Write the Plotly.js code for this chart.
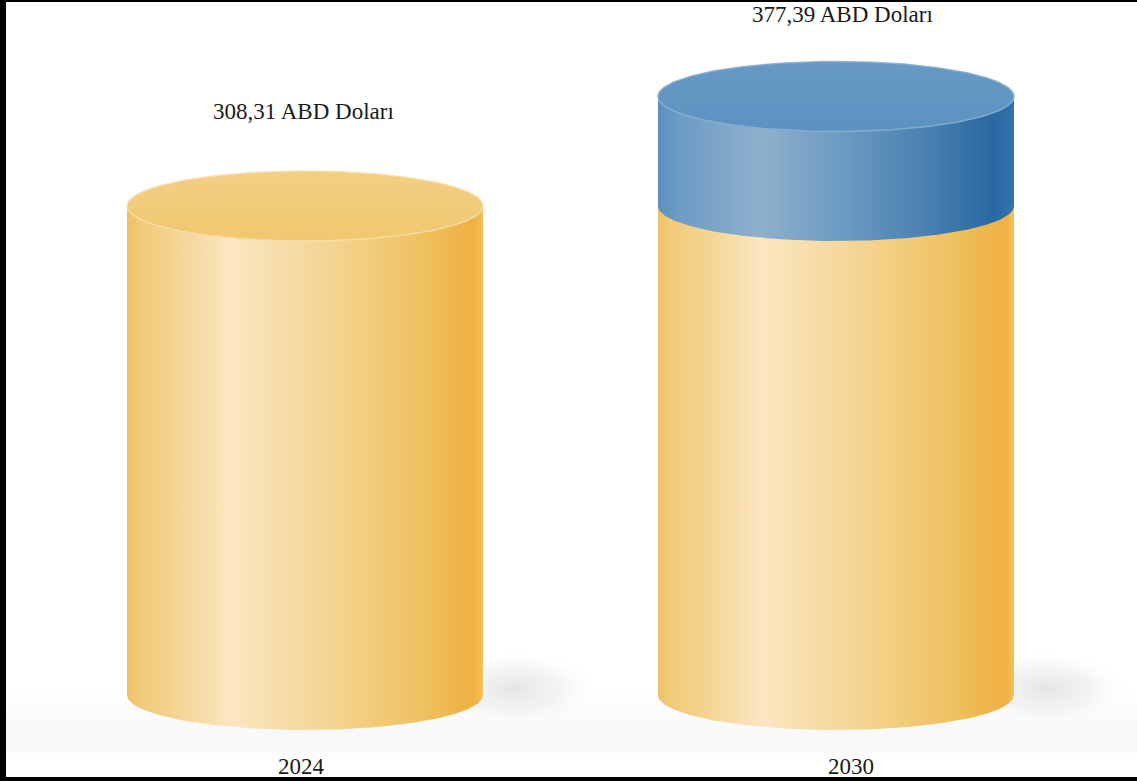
<!DOCTYPE html>
<html><head><meta charset="utf-8">
<script src="https://cdn.plot.ly/plotly-3.0.1.min.js"></script>
<style>html,body{margin:0;padding:0;background:#fff;overflow:hidden;} #chart{width:1137px;height:781px;}</style>
</head><body><div id="chart"></div>
<script>
// ---- data ----
const categories = ['2024', '2030'];
const totalValues = [308.31, 377.39];
const baseValues = [308.31, 308.31];
const valueLabels = ['308,31 ABD Doları', '377,39 ABD Doları'];

// ---- styling / geometry ----
const W = 1137, H = 781;
const pxPerUnitY = 1.586;
const baselinePx = 695;
const yRange = [(baselinePx - H) / pxPerUnitY, baselinePx / pxPerUnitY];
const xRange = [-0.5744, 1.5669];
const pxPerUnitX = W / (xRange[1] - xRange[0]);
const halfW = 178 / pxPerUnitX;
const capB = 35 / pxPerUnitY;
const N = 120;

const yellowSide = [[0,'#f0c066'],[0.04,'#f2cb7c'],[0.12,'#f3d28d'],[0.29,'#fce6c2'],[0.45,'#f6dca6'],[0.62,'#f3d188'],[0.82,'#efc262'],[0.93,'#eeb54a'],[0.975,'#f0b044'],[1,'#f1c15c']];
const blueSide = [[0,'#5a8fc2'],[0.05,'#6c9bc4'],[0.29,'#8fb0cc'],[0.5,'#6e9cc3'],[0.75,'#4b81b1'],[0.94,'#2a68a1'],[1,'#3272aa']];
const segColors = [
  {side: yellowSide, cap: [[0,'#f1c870'],[1,'#f3cf84']], rim: 'rgba(248,222,165,0.9)'},
  {side: blueSide, cap: [[0,'#5c92c0'],[1,'#6899c5']], rim: 'rgba(135,175,210,0.9)'}
];

function bodyTrace(xc, y0, y1, scale) {
  const xs = [xc - halfW, xc + halfW], ys = [y1, y1];
  for (let k = 0; k <= N; k++) {
    const t = 2 * Math.PI - Math.PI * k / N;
    xs.push(xc + halfW * Math.cos(t));
    ys.push(y0 + capB * Math.sin(t));
  }
  return {type:'scatter', mode:'lines', x: xs, y: ys, fill:'toself',
    line:{width:0, color:'rgba(0,0,0,0)'},
    fillgradient:{type:'horizontal', colorscale: scale},
    hoverinfo:'skip', showlegend:false};
}
function capTrace(xc, y, scale, rim) {
  const xs = [], ys = [];
  for (let k = 0; k <= 2 * N; k++) {
    const t = Math.PI * k / N;
    xs.push(xc + halfW * Math.cos(t));
    ys.push(y + capB * Math.sin(t));
  }
  return {type:'scatter', mode:'lines', x: xs, y: ys, fill:'toself',
    line:{width:1.5, color: rim},
    fillgradient:{type:'vertical', colorscale: scale},
    hoverinfo:'skip', showlegend:false};
}
function shadowTrace(xc) {
  const xs = [], ys = [];
  const cx = xc + halfW + 0.06, cy = 4, rx = 0.16, ry = 24;
  for (let k = 0; k <= 2 * N; k++) {
    const t = Math.PI * k / N;
    xs.push(cx + rx * Math.cos(t));
    ys.push(cy + ry * Math.sin(t));
  }
  return {type:'scatter', mode:'lines', x: xs, y: ys, fill:'toself',
    line:{width:0, color:'rgba(0,0,0,0)'},
    fillgradient:{type:'radial', colorscale:[[0,'rgba(212,212,214,0.6)'],[0.55,'rgba(228,228,230,0.4)'],[1,'rgba(255,255,255,0)']]},
    hoverinfo:'skip', showlegend:false};
}

const traces = [];
// floor
traces.push({type:'scatter', mode:'lines',
  x:[xRange[0], xRange[1], xRange[1], xRange[0], xRange[0]],
  y:[yRange[0], yRange[0], 6, 6, yRange[0]], fill:'toself',
  line:{width:0, color:'rgba(0,0,0,0)'},
  fillgradient:{type:'vertical', colorscale:[[0,'rgba(255,255,255,1)'],[0.2,'rgba(255,255,255,1)'],[0.4,'rgba(248,248,249,1)'],[0.75,'rgba(250,250,250,0.8)'],[1,'rgba(255,255,255,0)']]},
  hoverinfo:'skip', showlegend:false});

categories.forEach((c, i) => {
  traces.push(shadowTrace(i));
  const segs = [[0, baseValues[i]]];
  if (totalValues[i] > baseValues[i]) segs.push([baseValues[i], totalValues[i]]);
  segs.forEach((s, j) => traces.push(bodyTrace(i, s[0], s[1], segColors[j].side)));
  const last = segs.length - 1;
  traces.push(capTrace(i, segs[last][1], segColors[last].cap, segColors[last].rim));
});

const serif = 'Liberation Serif, Times New Roman, serif';
const annotations = [];
const valueXShift = [-1.5, 7];
categories.forEach((c, i) => {
  const topPx = baselinePx - totalValues[i] * pxPerUnitY;
  const centerPx = Math.max(topPx - 94.5, 14.5);
  annotations.push({x: i, xref:'x', y: (H - centerPx) / H, yref:'paper', yanchor:'middle',
    xshift: valueXShift[i], text: valueLabels[i], showarrow:false,
    font:{family: serif, size: 23, color:'#1a1a1a'}});
});
const yearXShift = [-3.5, 15];
categories.forEach((c, i) => {
  annotations.push({x: i, xref:'x', y: (H - 766.5) / H, yref:'paper', yanchor:'middle',
    xshift: yearXShift[i], text: c, showarrow:false,
    font:{family: serif, size: 23, color:'#1a1a1a'}});
});

const shapes = [
  {type:'rect', xref:'paper', yref:'paper', x0:0, x1:6/W, y0:0, y1:1, fillcolor:'#000', line:{width:0}, layer:'above'},
  {type:'rect', xref:'paper', yref:'paper', x0:0, x1:1, y0:1 - 2/H, y1:1, fillcolor:'#000', line:{width:0}, layer:'above'},
  {type:'rect', xref:'paper', yref:'paper', x0:0, x1:1, y0:0, y1:4/H, fillcolor:'#000', line:{width:0}, layer:'above'}
];

const layout = {
  width: W, height: H,
  margin:{l:0, r:0, t:0, b:0, pad:0},
  paper_bgcolor:'#ffffff', plot_bgcolor:'#ffffff',
  xaxis:{range: xRange, visible:false, fixedrange:true},
  yaxis:{range: yRange, visible:false, fixedrange:true},
  showlegend:false,
  annotations, shapes
};
Plotly.newPlot('chart', traces, layout, {displayModeBar:false, staticPlot:true});
</script></body></html>
